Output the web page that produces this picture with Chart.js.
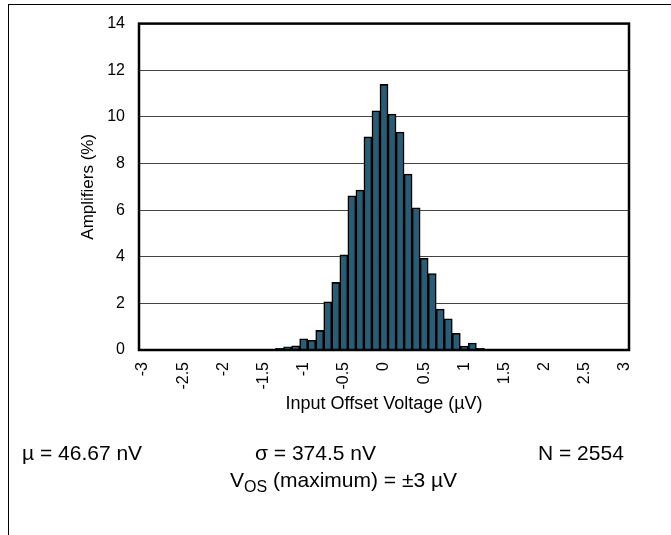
<!DOCTYPE html>
<html>
<head>
<meta charset="utf-8">
<script src="https://cdn.jsdelivr.net/npm/chart.js@4/dist/chart.umd.min.js"></script>
<style>
  html, body { margin: 0; padding: 0; background: #fff; }
  #wrap { position: relative; width: 671px; height: 535px; overflow: hidden; }
  #frame { position: absolute; left: 8px; top: 4px; width: 700px; height: 600px;
           border-top: 1px solid #000; border-left: 1px solid #000; }
  canvas { position: absolute; left: 0; top: 0; }
  .note { position: absolute; font-family: Arial, "Liberation Sans", sans-serif;
          font-size: 21px; color: #000; white-space: nowrap; line-height: 24px; }
  .note sub { font-size: 16px; vertical-align: -5px; line-height: 0; }
</style>
</head>
<body>
<div id="wrap">
  <div id="frame"></div>
  <canvas id="hist" width="671" height="535"></canvas>
  <div class="note" style="left:22px; top:441px;">µ = 46.67 nV</div>
  <div class="note" style="left:255px; top:441px;">σ = 374.5 nV</div>
  <div class="note" style="left:538px; top:441px;">N = 2554</div>
  <div class="note" style="left:230px; top:468px;">V<sub>OS</sub> (maximum) = ±3 µV</div>
</div>
<script>
// bins of 0.1 µV, centred on the labels
const categories = ['-3','-2.9','-2.8','-2.7','-2.6','-2.5','-2.4','-2.3','-2.2','-2.1',
  '-2','-1.9','-1.8','-1.7','-1.6','-1.5','-1.4','-1.3','-1.2','-1.1',
  '-1','-0.9','-0.8','-0.7','-0.6','-0.5','-0.4','-0.3','-0.2','-0.1',
  '0','0.1','0.2','0.3','0.4','0.5','0.6','0.7','0.8','0.9',
  '1','1.1','1.2','1.3','1.4','1.5','1.6','1.7','1.8','1.9',
  '2','2.1','2.2','2.3','2.4','2.5','2.6','2.7','2.8','2.9','3'];

// amplifiers (%)
const percent = [0,0,0,0,0,0,0,0,0,0,
  0,0,0,0,0,0,0,0.07,0.14,0.18,
  0.48,0.42,0.84,2.07,2.9,4.08,6.61,6.86,9.14,10.26,
  11.39,10.12,9.35,7.55,6.1,3.94,3.28,1.76,1.34,0.72,
  0.17,0.3,0.07,0,0,0,0,0,0,0,
  0,0,0,0,0,0,0,0,0,0,0];

const xTickLabels = ['-3','-2.5','-2','-1.5','-1','-0.5','0','0.5','1','1.5','2','2.5','3'];
const yTicks = [0, 2, 4, 6, 8, 10, 12, 14];

const FONT = 'Arial, "Liberation Sans", sans-serif';

const plotBox = {
  id: 'plotBox',
  afterDraw(chart) {
    const a = chart.chartArea, c = chart.ctx;
    c.save();
    c.strokeStyle = '#000';
    c.lineWidth = 2.5;
    c.strokeRect(a.left, a.top, a.right - a.left, a.bottom - a.top);
    c.restore();
  }
};

new Chart(document.getElementById('hist'), {
  type: 'bar',
  data: {
    labels: categories,
    datasets: [{
      data: percent,
      backgroundColor: '#2a5d75',
      borderColor: '#000',
      borderWidth: 1.6,
      barPercentage: 1,
      categoryPercentage: 1
    }]
  },
  options: {
    responsive: false,
    animation: false,
    layout: { padding: { left: 78, top: 18, right: 42, bottom: 120 } },
    plugins: { legend: { display: false }, tooltip: { enabled: false } },
    scales: {
      x: {
        grid: { display: false },
        border: { display: false },
        ticks: {
          autoSkip: false, maxRotation: 90, minRotation: 90, padding: 4,
          color: '#000', font: { family: FONT, size: 16 },
          callback: function (v) {
            const l = categories[v];
            return xTickLabels.includes(l) ? l : '';
          }
        },
        title: { display: true, text: 'Input Offset Voltage (µV)', color: '#000',
                 font: { family: FONT, size: 18 }, padding: 0 },
        afterFit(s) { s.height = 65; }
      },
      y: {
        min: 0, max: 14,
        grid: { color: '#444', lineWidth: 1, drawTicks: false },
        border: { display: false },
        afterBuildTicks(s) { s.ticks = yTicks.map(v => ({ value: v })); },
        ticks: { padding: 14, color: '#000', font: { family: FONT, size: 16 } },
        title: { display: true, text: 'Amplifiers (%)', color: '#000',
                 font: { family: FONT, size: 17 }, padding: 0 },
        afterFit(s) { s.width = 61; }
      }
    }
  },
  plugins: [plotBox]
});
</script>
</body>
</html>
